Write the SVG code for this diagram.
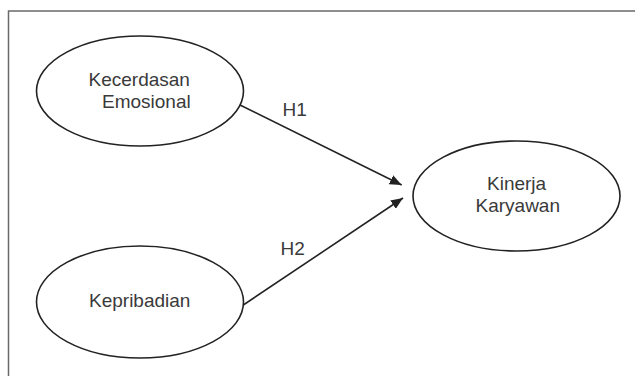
<svg xmlns="http://www.w3.org/2000/svg" width="635" height="376" viewBox="0 0 635 376">
<style>
.node ellipse{fill:#fff;stroke:#222;stroke-width:1.6}
.lbl{font-family:"Liberation Sans",Arial,sans-serif;font-size:19px;fill:#3a3a3a}
.edge{stroke:#222;stroke-width:1.6;fill:none}
.frame{stroke:#6a6a6a;stroke-width:1.5;fill:none}
</style>
<defs>
<marker id="arr" viewBox="0 0 12 10" refX="12" refY="5" markerWidth="12" markerHeight="10" markerUnits="userSpaceOnUse" orient="auto">
<path d="M0,0 L12,5 L0,10 Z" fill="#222"/>
</marker>
</defs>
<rect width="635" height="376" fill="#fff"/>
<path class="frame" d="M8.5,376 V11 H635"/>
<g id="kecerdasan" class="node">
<ellipse cx="140" cy="91" rx="103.5" ry="55"/>
<text class="lbl" x="88.5" y="86">Kecerdasan</text>
<text class="lbl" x="102" y="107.5">Emosional</text>
</g>
<g id="kepribadian" class="node">
<ellipse cx="140" cy="302" rx="103.5" ry="56"/>
<text class="lbl" x="89" y="307">Kepribadian</text>
</g>
<g id="kinerja" class="node">
<ellipse cx="516.5" cy="196" rx="103.5" ry="55"/>
<text class="lbl" x="487" y="190">Kinerja</text>
<text class="lbl" x="475.5" y="211.5">Karyawan</text>
</g>
<g id="connectors">
<line class="edge" x1="240" y1="105" x2="401.7" y2="185" marker-end="url(#arr)"/>
<line class="edge" x1="243.3" y1="305" x2="403" y2="198" marker-end="url(#arr)"/>
<text class="lbl" x="282.5" y="116">H1</text>
<text class="lbl" x="280.5" y="255">H2</text>
</g>
</svg>
